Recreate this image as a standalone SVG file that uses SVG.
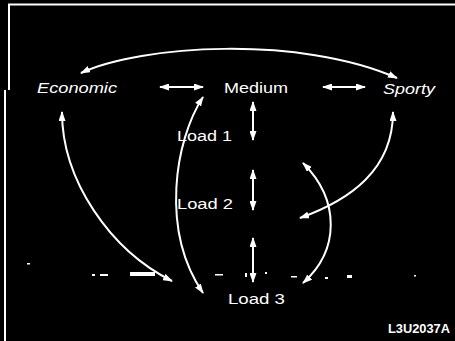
<svg xmlns="http://www.w3.org/2000/svg" width="455" height="341" viewBox="0 0 455 341">
<style>
.lbl{font-family:"Liberation Sans",Arial,sans-serif;font-size:15.5px;fill:#fff}
.it{font-style:italic}
.cn{fill:none;stroke:#fff;stroke-width:2}
.noise{fill:#fff}
</style>
<defs>
<marker id="ah" viewBox="0 0 10 7" refX="9" refY="3.5" markerWidth="10" markerHeight="7" markerUnits="userSpaceOnUse" orient="auto-start-reverse">
<path d="M0,0 L10,3.5 L0,7 z" fill="#fff"/>
</marker>
</defs>
<rect width="455" height="341" fill="#000"/>
<g id="frame" fill="none" stroke="#fff" stroke-width="2">
<polyline points="455,4.5 9,4.5 9,90"/>
<line x1="5" y1="90" x2="5" y2="341"/>
</g>
<g id="economic"><text class="lbl it" x="37" y="93" textLength="80" lengthAdjust="spacingAndGlyphs">Economic</text></g>
<g id="medium"><text class="lbl" x="224" y="93" textLength="64" lengthAdjust="spacingAndGlyphs">Medium</text></g>
<g id="sporty"><text class="lbl it" x="383" y="94" textLength="52" lengthAdjust="spacingAndGlyphs">Sporty</text></g>
<g id="load1"><text class="lbl" x="177" y="141" textLength="55" lengthAdjust="spacingAndGlyphs">Load 1</text></g>
<g id="load2"><text class="lbl" x="177" y="209" textLength="56" lengthAdjust="spacingAndGlyphs">Load 2</text></g>
<g id="load3"><text class="lbl" x="228" y="304" textLength="57" lengthAdjust="spacingAndGlyphs">Load 3</text></g>
<g id="code"><text x="388" y="333" textLength="62" lengthAdjust="spacingAndGlyphs" style="font-family:'Liberation Sans',Arial,sans-serif;font-size:13.5px;font-weight:bold;fill:#fff">L3U2037A</text></g>
<g id="connectors">
<path class="cn" d="M81,73 C140,45 300,35 397,78" marker-start="url(#ah)" marker-end="url(#ah)"/>
<line class="cn" x1="160" y1="87" x2="203" y2="87" marker-start="url(#ah)" marker-end="url(#ah)"/>
<line class="cn" x1="323" y1="87" x2="365" y2="87" marker-start="url(#ah)" marker-end="url(#ah)"/>
<line class="cn" x1="253" y1="102" x2="253" y2="140" marker-start="url(#ah)" marker-end="url(#ah)"/>
<line class="cn" x1="253" y1="170" x2="253" y2="210" marker-start="url(#ah)" marker-end="url(#ah)"/>
<line class="cn" x1="253" y1="238" x2="253" y2="282" marker-start="url(#ah)" marker-end="url(#ah)"/>
<path class="cn" d="M62,112 C62,180 110,250 172,281" marker-start="url(#ah)" marker-end="url(#ah)"/>
<path class="cn" d="M203,97 C175,140 160,230 203,293" marker-start="url(#ah)" marker-end="url(#ah)"/>
<path class="cn" d="M393,112 C393,170 350,200 300,218" marker-start="url(#ah)" marker-end="url(#ah)"/>
<path class="cn" d="M303,163 C340,200 340,250 303,283" marker-start="url(#ah)" marker-end="url(#ah)"/>
</g>
<g id="scan-noise" class="noise">
<rect x="27" y="263" width="3" height="1.5"/>
<rect x="92" y="274" width="3" height="2"/>
<rect x="100" y="274" width="8" height="2"/>
<rect x="130" y="272" width="25" height="4"/>
<rect x="215" y="274" width="8" height="1.5"/>
<rect x="245" y="273" width="2" height="4"/>
<rect x="265" y="272" width="2" height="2"/>
<rect x="291" y="276" width="6" height="1.5"/>
<rect x="325" y="277" width="3" height="2"/>
<rect x="347" y="275" width="5" height="3"/>
<rect x="414" y="275" width="2" height="1.5"/>
</g>
</svg>
